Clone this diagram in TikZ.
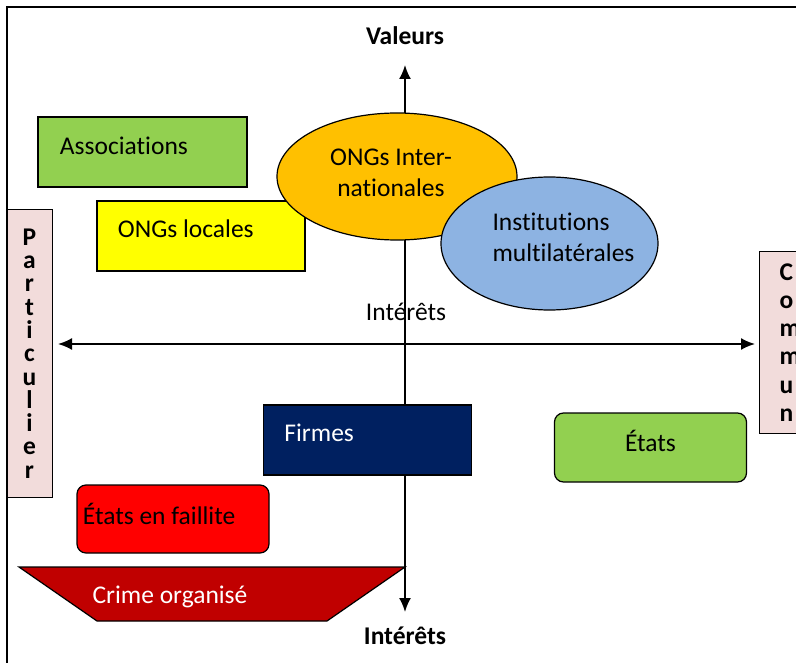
\documentclass[tikz,border=0pt]{standalone}
\usepackage{fontspec}
\setmainfont{Carlito}[Ligatures=CommonOff]
\usetikzlibrary{arrows.meta,shapes.geometric}
\definecolor{vert}{HTML}{92D050}
\definecolor{jaune}{HTML}{FFFF00}
\definecolor{orange}{HTML}{FFC000}
\definecolor{bleu}{HTML}{8DB3E2}
\definecolor{rose}{HTML}{F2DCDB}
\definecolor{marine}{HTML}{002060}
\definecolor{rouge}{HTML}{FF0000}
\definecolor{bordeaux}{HTML}{C00000}
\tikzset{
  texte/.style={font=\fontsize{25.5}{31}\selectfont},
  titre/.style={texte,font=\fontsize{25.5}{30}\selectfont\bfseries},
  boite/.style={draw=black,line width=1.2pt,inner sep=0pt},
  axe/.style={line width=1.8pt,{Latex[length=14pt,width=12pt]}-{Latex[length=14pt,width=12pt]}},
  lettres/.style={draw=black,line width=1pt,fill=rose,inner sep=0pt}
}
\begin{document}
\begin{tikzpicture}[x=1pt,y=-1pt]
\useasboundingbox (0,0) rectangle (796,663);
%frame
\draw[line width=2pt] (7,700)--(7,7)--(820,7);
%axes
\coordinate (haut) at (405,65);
\coordinate (bas) at (405,612);
\coordinate (gauche) at (58,344);
\coordinate (droite) at (755,344);
\draw[axe] (haut)--(bas);
\draw[axe] (gauche)--(droite);
\node[titre] (valeurs) at (405,36) {Valeurs};
\node[titre] (interets) at (405,636) {Intérêts};
\node[texte] (interetsh) at (406,312) {Intérêts};
%sides
\node[lettres,minimum width=45pt,minimum height=287pt,align=center,
  font=\fontsize{25.5}{23.3}\selectfont\bfseries] (partic) at (29.5,353.5)
  {P\\a\\r\\t\\i\\c\\u\\l\\i\\e\\r};
\node[lettres,minimum width=80pt,minimum height=182pt,anchor=north west,
  text width=40pt,align=left,
  font=\fontsize{25.5}{28.2}\selectfont\bfseries] (commun) at (759,251)
  {C\\o\\m\\m\\u\\n};
%actors
\node[boite,fill=vert,minimum width=209pt,minimum height=70pt,
  label={[texte,anchor=west,xshift=19pt,yshift=6pt]west:Associations}] (assoc) at (142.5,152) {};
\node[boite,fill=jaune,minimum width=208pt,minimum height=70pt,
  label={[texte,anchor=west,xshift=18pt,yshift=7pt]west:ONGs locales}] (ongl) at (201,236) {};
\node[ellipse,boite,fill=orange,minimum width=240pt,minimum height=127pt,
  label={[texte,align=center,xshift=-6pt,yshift=4pt]center:ONGs Inter-\\nationales}] (ongi) at (397,176.5) {};
\node[ellipse,boite,fill=bleu,minimum width=217pt,minimum height=133pt,
  label={[texte,align=left,xshift=14pt,yshift=6pt]center:Institutions\\multilatérales}] (inst) at (549.5,243.5) {};
\node[boite,fill=marine,minimum width=208pt,minimum height=70pt,
  label={[texte,text=white,anchor=west,xshift=18pt,yshift=7pt]west:Firmes}] (firmes) at (367.5,440) {};
\node[boite,fill=vert,rounded corners=9pt,minimum width=192pt,minimum height=69pt,
  label={[texte,yshift=7pt]center:États}] (etats) at (650.5,447.5) {};
\node[boite,fill=rouge,rounded corners=9pt,minimum width=192pt,minimum height=68pt,
  label={[texte,anchor=west,xshift=3pt,yshift=5pt]west:États en faillite}] (faillite) at (173,519) {};
%crime
\draw[line width=1.2pt,fill=bordeaux] (19,567)--(405,567)--(327,621)--(97,621)--cycle;
\node[texte,text=white] (crime) at (170,597) {Crime organisé};
\end{tikzpicture}
\end{document}
